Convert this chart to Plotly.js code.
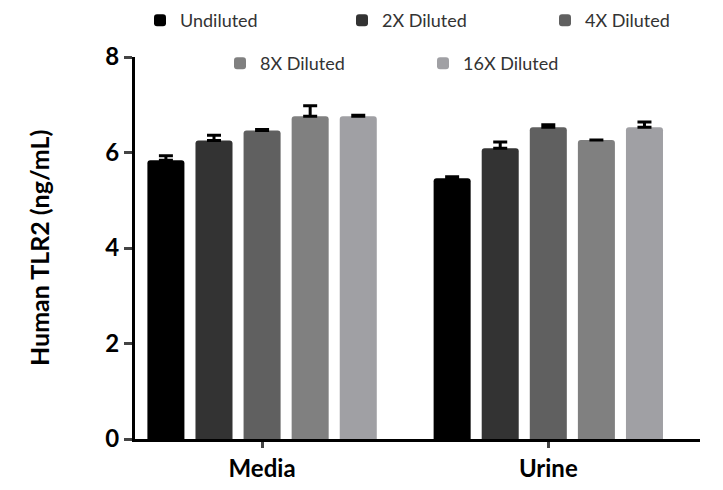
<!DOCTYPE html><html><head><script src="https://cdn.plot.ly/plotly-3.0.1.min.js"></script></head><body style="margin:0"><div id="c" style="width:723px;height:490px"></div><script>
const categories=["Media","Urine"];
const seriesNames=["Undiluted","2X Diluted","4X Diluted","8X Diluted","16X Diluted"];
const colors=["#000000","#333333","#606060","#808080","#a0a0a4"];
const yTitle="Human TLR2 (ng/mL)";
const undiluted=[5.84,5.46], undilutedErr=[0.09,0.03];
const x2=[6.25,6.09], x2Err=[0.11,0.13];
const x4=[6.46,6.53], x4Err=[0.02,0.05];
const x8=[6.76,6.26], x8Err=[0.22,null];
const x16=[6.76,6.53], x16Err=[0.02,0.11];
const vals=[undiluted,x2,x4,x8,x16], errs=[undilutedErr,x2Err,x4Err,x8Err,x16Err];
const legIds=["legend","legend2","legend3","legend4","legend5"];
const data=vals.map((v,i)=>({type:"bar",x:categories,y:v,name:seriesNames[i],legend:legIds[i],marker:{color:colors[i],cornerradius:3},
 error_y:{type:"data",array:errs[i],arrayminus:errs[i].map(()=>0),symmetric:false,color:"#000",thickness:3,width:7}}));
const pos=[[140,2],[342,2],[545,2],[220,45],[423,45]];
const layout={width:723,height:490,margin:{l:135,r:23,t:57,b:51,autoexpand:false},
 font:{family:"Lato, sans-serif",color:"#000"},barmode:"group",bargap:0.16,bargroupgap:0.23,showlegend:true,
 xaxis:{range:[-0.444,1.53],showline:true,linewidth:3,linecolor:"#000",ticks:"outside",ticklen:6,tickwidth:3,tickfont:{size:24,weight:"bold"}},
 yaxis:{range:[0,8],dtick:2,showline:true,linewidth:3,linecolor:"#000",ticks:"outside",ticklen:8,tickwidth:3,showgrid:false,zeroline:false,
  tickfont:{size:24,weight:"bold"}},
 annotations:[{text:yTitle,textangle:-90,xref:"paper",yref:"paper",x:-0.17,y:0.5,xanchor:"center",yanchor:"middle",showarrow:false,font:{size:25,weight:"bold"}}]};
legIds.forEach((id,i)=>{layout[id]={xref:"container",yref:"container",x:pos[i][0]/723,y:1-pos[i][1]/490,xanchor:"left",yanchor:"top",font:{size:18,color:"#333"}};});
Plotly.newPlot("c",data,layout,{displayModeBar:false});
</script></body></html>
